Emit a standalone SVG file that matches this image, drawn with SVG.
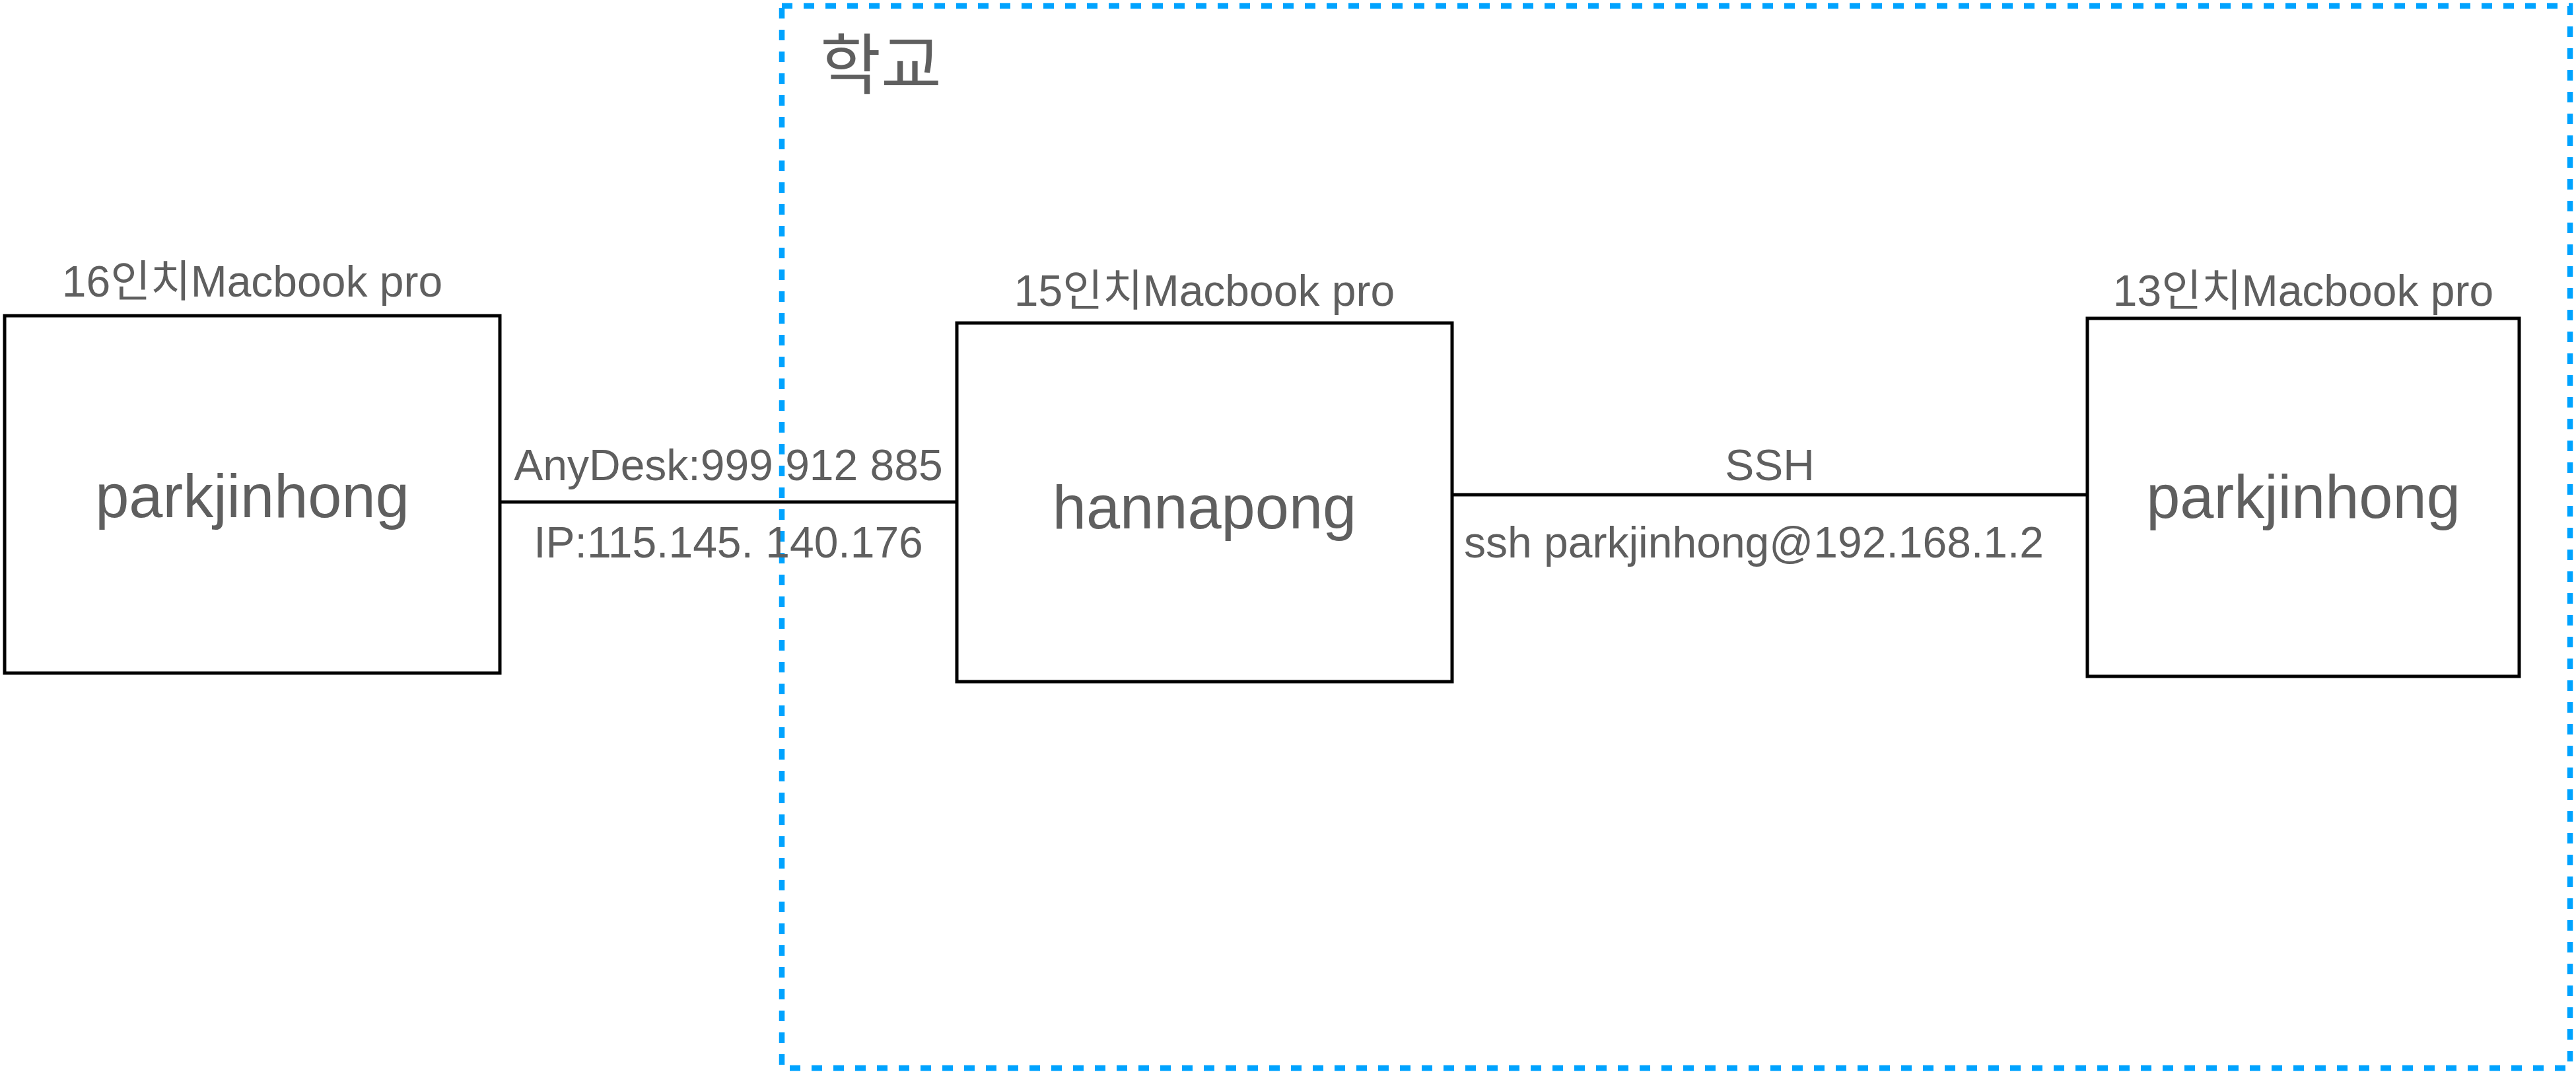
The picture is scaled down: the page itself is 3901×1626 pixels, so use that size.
<svg xmlns="http://www.w3.org/2000/svg" width="3901" height="1626" viewBox="0 0 3901 1626">
<style>
.box{fill:#ffffff;stroke:#000000;stroke-width:5}
.edge{fill:none;stroke:#000000;stroke-width:5}
.t{font-family:"Liberation Sans","Noto Sans CJK KR",Arial,sans-serif;fill:#5f5f5f;text-anchor:middle}
.s{font-size:66px}
.m{font-size:92px}
</style>
<rect width="3901" height="1626" fill="#ffffff"/>
<g id="school">
<rect x="1184" y="9" width="2708" height="1608" fill="none" stroke="#00a3ff" stroke-width="8.5" stroke-dasharray="16 17"/>
<text x="1242" y="134" font-family="'Noto Sans CJK KR','Liberation Sans',sans-serif" font-size="100" fill="#5f5f5f">학교</text>
</g>
<g id="connectors">
<line class="edge" x1="757" y1="760" x2="1449" y2="760"/>
<text class="t s" x="1103" y="727">AnyDesk:999 912 885</text>
<text class="t s" x="1103" y="844">IP:115.145. 140.176</text>
<line class="edge" x1="2199" y1="749" x2="3161" y2="749"/>
<text class="t s" x="2680" y="727">SSH</text>
<text class="t s" x="2656" y="844">ssh parkjinhong@192.168.1.2</text>
</g>
<g id="node-16">
<rect class="box" x="7" y="478" width="750" height="541"/>
<text class="t s" x="382" y="449">16인치Macbook pro</text>
<text class="t m" x="382" y="783">parkjinhong</text>
</g>
<g id="node-15">
<rect class="box" x="1449" y="489" width="750" height="543"/>
<text class="t s" x="1824" y="463">15인치Macbook pro</text>
<text class="t m" x="1824" y="800">hannapong</text>
</g>
<g id="node-13">
<rect class="box" x="3161" y="482" width="654" height="542"/>
<text class="t s" x="3488" y="463">13인치Macbook pro</text>
<text class="t m" x="3488" y="784">parkjinhong</text>
</g>
</svg>
